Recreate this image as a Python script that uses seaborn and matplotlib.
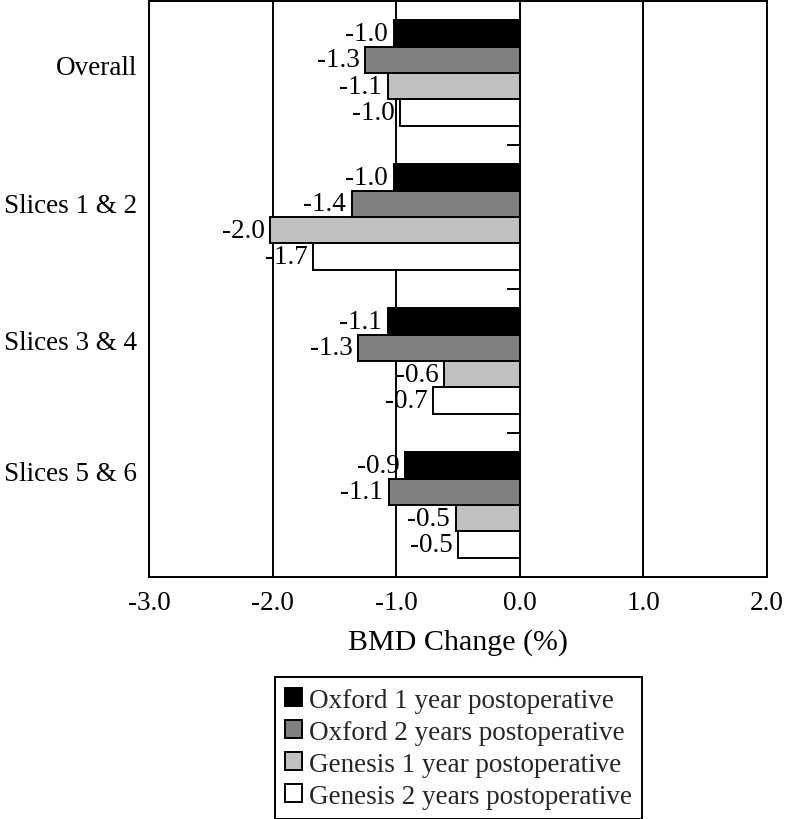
import numpy as np
import pandas as pd
import matplotlib
matplotlib.use("Agg")
import matplotlib.pyplot as plt
import seaborn as sns

# ---- data ----
regions = ["Overall", "Slices 1 & 2", "Slices 3 & 4", "Slices 5 & 6"]
series = ["Oxford 1 year postoperative", "Oxford 2 years postoperative",
          "Genesis 1 year postoperative", "Genesis 2 years postoperative"]
oxford_1y = [-1.02, -1.02, -1.07, -0.93]
oxford_2y = [-1.25, -1.36, -1.31, -1.06]
genesis_1y = [-1.07, -2.02, -0.61, -0.52]
genesis_2y = [-0.97, -1.67, -0.70, -0.50]
oxford_1y_labels = ["-1.0", "-1.0", "-1.1", "-0.9"]
oxford_2y_labels = ["-1.3", "-1.4", "-1.3", "-1.1"]
genesis_1y_labels = ["-1.1", "-2.0", "-0.6", "-0.5"]
genesis_2y_labels = ["-1.0", "-1.7", "-0.7", "-0.5"]
x_ticks = [-3.0, -2.0, -1.0, 0.0, 1.0, 2.0]
colors = ["#000000", "#808080", "#c0c0c0", "#ffffff"]

all_values = [oxford_1y, oxford_2y, genesis_1y, genesis_2y]
all_labels = [oxford_1y_labels, oxford_2y_labels, genesis_1y_labels, genesis_2y_labels]

df = pd.DataFrame(
    [(r, s, v) for s, vals in zip(series, all_values) for r, v in zip(regions, vals)],
    columns=["region", "series", "value"],
)

sns.set_theme(style="white")
plt.rcParams["font.family"] = ["Liberation Serif", "DejaVu Serif"]
plt.rcParams["axes.unicode_minus"] = False

FS = 19.5
LW = 1.4

fig = plt.figure(figsize=(7.86, 8.20), dpi=100)
ax = fig.add_axes([149 / 786, 1 - 578 / 820, (767 - 149) / 786, (578 - 2) / 820])

sns.barplot(data=df, x="value", y="region", hue="series", order=regions,
            hue_order=series, palette=colors, width=0.73, edgecolor="black",
            linewidth=LW, errorbar=None, legend=False, ax=ax, orient="h")

for cont, labs in zip(ax.containers, all_labels):
    ax.bar_label(cont, labels=labs, padding=4, fontsize=FS, color="black")

ax.set_xlim(-3, 2)
ax.set_ylim(len(regions) - 0.5, -0.5)
ax.set_xticks(x_ticks, [f"{t:.1f}" for t in x_ticks])
label_pos = [-0.06, 0.90, 1.85, 2.76]
ax.set_yticks(label_pos, regions)
ax.tick_params(axis="both", length=0, labelsize=FS, colors="black")
ax.tick_params(axis="y", pad=8.6)
ax.tick_params(axis="x", pad=9.5)

ax.set_axisbelow(True)
ax.xaxis.grid(True, color="black", linewidth=LW)
ax.yaxis.grid(False)
ax.hlines(np.arange(len(regions) - 1) + 0.5, -0.1, 0, color="black", linewidth=LW)

for sp in ax.spines.values():
    sp.set_visible(True)
    sp.set_color("black")
    sp.set_linewidth(LW)

ax.set_ylabel("")
ax.set_xlabel("BMD Change (%)", fontsize=21.6, labelpad=9, color="black")

leg = fig.legend(ax.containers, series, loc="upper center",
                 bbox_to_anchor=(458.5 / 786, 1 - 678 / 820), fontsize=FS,
                 frameon=True, fancybox=False, edgecolor="black", framealpha=1,
                 borderpad=0.39, labelspacing=0.26, handlelength=0.62,
                 handleheight=0.62, handletextpad=0.25, borderaxespad=0)
leg.get_frame().set_linewidth(LW)

fig.savefig("out.png", dpi=100)
